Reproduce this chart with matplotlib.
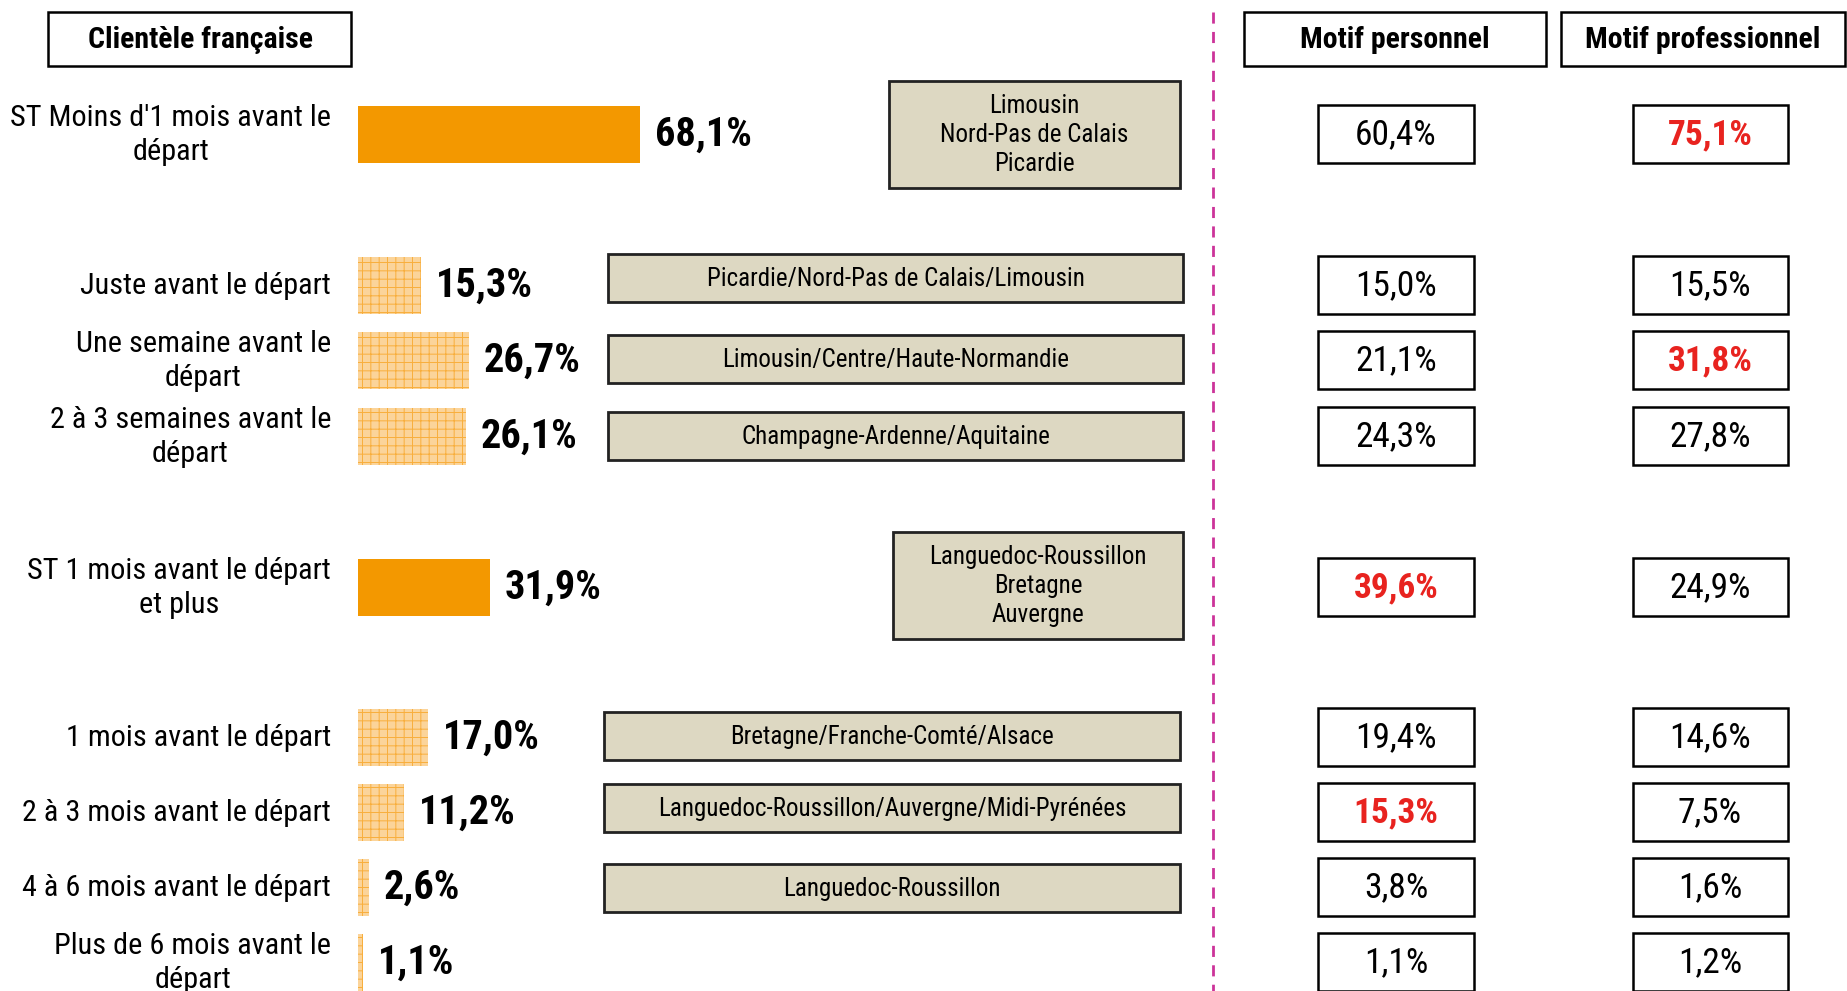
import matplotlib
matplotlib.use("Agg")
import matplotlib.pyplot as plt
from matplotlib import font_manager
from matplotlib.patches import Rectangle
from matplotlib.lines import Line2D

# ---------------- data ----------------
categories = [
    "ST Moins d'1 mois avant le\ndépart",
    "Juste avant le départ",
    "Une semaine avant le\ndépart",
    "2 à 3 semaines avant le\ndépart",
    "ST 1 mois avant le départ\net plus",
    "1 mois avant le départ",
    "2 à 3 mois avant le départ",
    "4 à 6 mois avant le départ",
    "Plus de 6 mois avant le\ndépart",
]
values = [68.1, 15.3, 26.7, 26.1, 31.9, 17.0, 11.2, 2.6, 1.1]
is_subtotal = [True, False, False, False, True, False, False, False, False]
regions = [
    "Limousin\nNord-Pas de Calais\nPicardie",
    "Picardie/Nord-Pas de Calais/Limousin",
    "Limousin/Centre/Haute-Normandie",
    "Champagne-Ardenne/Aquitaine",
    "Languedoc-Roussillon\nBretagne\nAuvergne",
    "Bretagne/Franche-Comté/Alsace",
    "Languedoc-Roussillon/Auvergne/Midi-Pyrénées",
    "Languedoc-Roussillon",
    "",
]
motif_perso = [60.4, 15.0, 21.1, 24.3, 39.6, 19.4, 15.3, 3.8, 1.1]
motif_pro = [75.1, 15.5, 31.8, 27.8, 24.9, 14.6, 7.5, 1.6, 1.2]
highlight_perso = [False, False, False, False, True, False, True, False, False]
highlight_pro = [True, False, True, False, False, False, False, False, False]
header_left = "Clientèle française"
header_perso = "Motif personnel"
header_pro = "Motif professionnel"

# ---------------- layout (pixels) ----------------
W, H = 1847, 991
row_y = [134, 285, 360, 436, 587, 737, 812, 887, 962]
region_y = [134, 278, 359, 436, 585, 736, 808, 888, None]
region_x = [(889, 1180), (608, 1183), (608, 1183), (608, 1183), (893, 1183),
            (604, 1180), (604, 1180), (604, 1180), None]
bar_x0 = 358
px_per_pct = 4.14
bar_h = 57

avail = {f.name for f in font_manager.fontManager.ttflist}
FONT = "DejaVu Sans"
for cand in ["Roboto Condensed", "Liberation Sans Narrow", "Open Sans Condensed", "Noto Sans Condensed"]:
    if cand in avail:
        FONT = cand
        break
plt.rcParams["font.family"] = [FONT, "DejaVu Sans"]
plt.rcParams["hatch.linewidth"] = 0.7

SOLID = "#f39800"
LIGHT = "#fbd49a"
HATCHC = "#f8ae3c"
BEIGE = "#ddd8c2"
RED = "#e8231f"
PINK = "#cc3399"

fig = plt.figure(figsize=(W / 100, H / 100), dpi=100)
ax = fig.add_axes([0, 0, 1, 1])
ax.set_xlim(0, W)
ax.set_ylim(H, 0)
ax.axis("off")

bx = fig.add_axes([bar_x0 / W, 0, px_per_pct * 100 / W, 1])
bx.set_xlim(0, 100)
bx.set_ylim(H, 0)
bx.axis("off")
bx.patch.set_visible(False)

def fmt(v):
    return f"{v:.1f}".replace(".", ",") + "%"

def box(x0, y0, x1, y1, fc="white", lw=1.8):
    ax.add_patch(Rectangle((x0, y0), x1 - x0, y1 - y0, facecolor=fc,
                           edgecolor="black", linewidth=lw, zorder=2))

# headers
box(48, 12, 351, 66)
ax.text(200, 40, header_left, ha="center", va="center", fontsize=21.5, fontweight="bold", zorder=3)
box(1244, 12, 1546, 66)
ax.text(1395, 40, header_perso, ha="center", va="center", fontsize=21.5, fontweight="bold", zorder=3)
box(1561, 12, 1845, 66)
ax.text(1703, 40, header_pro, ha="center", va="center", fontsize=21.5, fontweight="bold", zorder=3)

# dashed separator
ax.add_line(Line2D([1213, 1213], [12, H], color=PINK, linewidth=2,
                   linestyle=(0, (4, 3)), zorder=1))

# bars
for i, (v, sub) in enumerate(zip(values, is_subtotal)):
    y = row_y[i]
    if sub:
        bx.barh(y, v, height=bar_h, color=SOLID, linewidth=0)
    else:
        bx.barh(y, v, height=bar_h, color=LIGHT, hatch="++", edgecolor=HATCHC,
                linewidth=0)
    bx.text(v + 3.6, y + 1, fmt(v), ha="left", va="center", fontsize=29,
            fontweight="bold", color="black")
    ax.text(331, y + 1, categories[i], ha="right", va="center", fontsize=21.8,
            multialignment="center", linespacing=1.26)

# region boxes
for i, r in enumerate(regions):
    if not r:
        continue
    x0, x1 = region_x[i]
    cy = region_y[i]
    nl = r.count("\n") + 1
    hh = 53.5 if nl == 3 else 24
    ax.add_patch(Rectangle((x0, cy - hh), x1 - x0, 2 * hh, facecolor=BEIGE,
                           edgecolor="#222222", linewidth=2, zorder=2))
    ax.text((x0 + x1) / 2, cy + 1, r, ha="center", va="center", fontsize=18,
            linespacing=1.27, zorder=3)

# motif boxes
for i in range(len(values)):
    y = row_y[i]
    box(1318, y - 29, 1474, y + 29)
    ax.text(1396, y + 1, fmt(motif_perso[i]), ha="center", va="center", fontsize=25.5,
            color=RED if highlight_perso[i] else "black",
            fontweight="bold" if highlight_perso[i] else "normal", zorder=3)
    box(1633, y - 29, 1788, y + 29)
    ax.text(1710, y + 1, fmt(motif_pro[i]), ha="center", va="center", fontsize=25.5,
            color=RED if highlight_pro[i] else "black",
            fontweight="bold" if highlight_pro[i] else "normal", zorder=3)

fig.savefig("out.png", dpi=100, facecolor="white")
